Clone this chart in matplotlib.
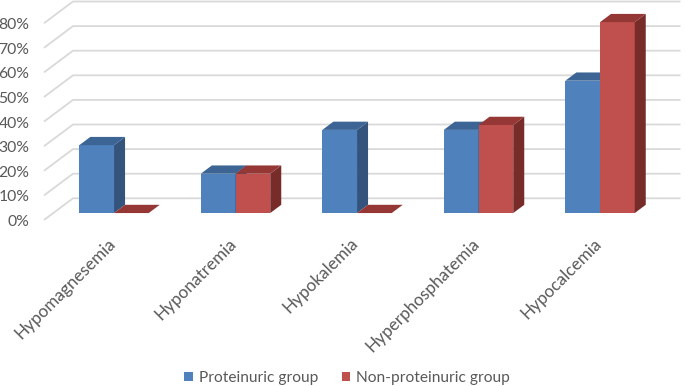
import matplotlib
matplotlib.use("Agg")
import matplotlib.pyplot as plt
from matplotlib.patches import Polygon, Patch

categorias = ["Hypomagnesemia", "Hyponatremia", "Hypokalemia", "Hyperphosphatemia", "Hypocalcemia"]
proteinuric = [0.276, 0.16, 0.338, 0.338, 0.538]
non_proteinuric = [0.0, 0.16, 0.0, 0.358, 0.776]
ticks_y = [0.0, 0.1, 0.2, 0.3, 0.4, 0.5, 0.6, 0.7, 0.8]
etiquetas_y = ["0%", "10%", "20%", "30%", "40%", "50%", "60%", "70%", "80%"]

plt.rcParams['font.family'] = ['Lato', 'DejaVu Sans']
texto_color = "#595959"

W, H = 685, 386
fig = plt.figure(figsize=(W / 100, H / 100), dpi=100)
ax = fig.add_axes([0, 0, 1, 1])

# unidades: 1 categoria = 121.5 px, 1.0 (100%) = 246 px
px_x, px_y = 121.5, 246.0
x0_px, y0_px = 104.75, 220.0
ax.set_xlim(-x0_px / px_x, (W - x0_px) / px_x)
ax.set_ylim((y0_px - H) / px_y, y0_px / px_y)
ax.axis("off")

# profundidad total (pared lateral)
prof_x = 29 / px_x
prof_y = 21.7 / px_y

# paredes: lineas de cuadricula
for v in ticks_y:
    ax.plot([-0.5, -0.5 + prof_x, 4.5 + prof_x], [v, v + prof_y, v + prof_y],
            color="#D9D9D9", lw=1.3, zorder=1, solid_capstyle="butt")

for v, t in zip(ticks_y, etiquetas_y):
    ax.text((29.5 - x0_px) / px_x, v - 2 / px_y, t, ha="right", va="center",
            fontsize=11.3, color=texto_color)

# barras 3D
ancho = 34.7 / px_x
d_ini, d_fin = 0.32, 0.70


def barra(x_izq, valor, frente, arriba, lado):
    bx = x_izq + d_ini * prof_x
    by = d_ini * prof_y
    ddx = (d_fin - d_ini) * prof_x
    ddy = (d_fin - d_ini) * prof_y
    top = by + valor
    if valor > 0:
        ax.add_patch(Polygon([(bx, by), (bx + ancho, by), (bx + ancho, top), (bx, top)],
                             closed=True, fc=frente, ec="none", zorder=3))
        ax.add_patch(Polygon([(bx + ancho, by), (bx + ancho + ddx, by + ddy),
                              (bx + ancho + ddx, top + ddy), (bx + ancho, top)],
                             closed=True, fc=lado, ec="none", zorder=3))
    ax.add_patch(Polygon([(bx, top), (bx + ancho, top), (bx + ancho + ddx, top + ddy),
                          (bx + ddx, top + ddy)],
                         closed=True, fc=arriba, ec="none", zorder=3))


for i in range(len(categorias)):
    barra(i - ancho, proteinuric[i], "#4F81BD", "#3C6494", "#34547E")
    barra(i, non_proteinuric[i], "#C0504D", "#953735", "#772C2A")

for i, c in enumerate(categorias):
    ax.text(i + 0.02, (y0_px - 235) / px_y, c, rotation=45, ha="right", va="top",
            rotation_mode="anchor", fontsize=12.3, color=texto_color)

handles = [Patch(facecolor="#4F81BD", label="Proteinuric group"),
           Patch(facecolor="#C0504D", label="Non-proteinuric group")]
ax.legend(handles=handles, loc="center", bbox_to_anchor=(0.507, 0.021), ncol=2,
          frameon=False, handlelength=0.55, handleheight=0.55, handletextpad=0.4,
          columnspacing=1.5, labelcolor=texto_color, prop={"size": 11.2})

fig.savefig("out.png", dpi=100)
